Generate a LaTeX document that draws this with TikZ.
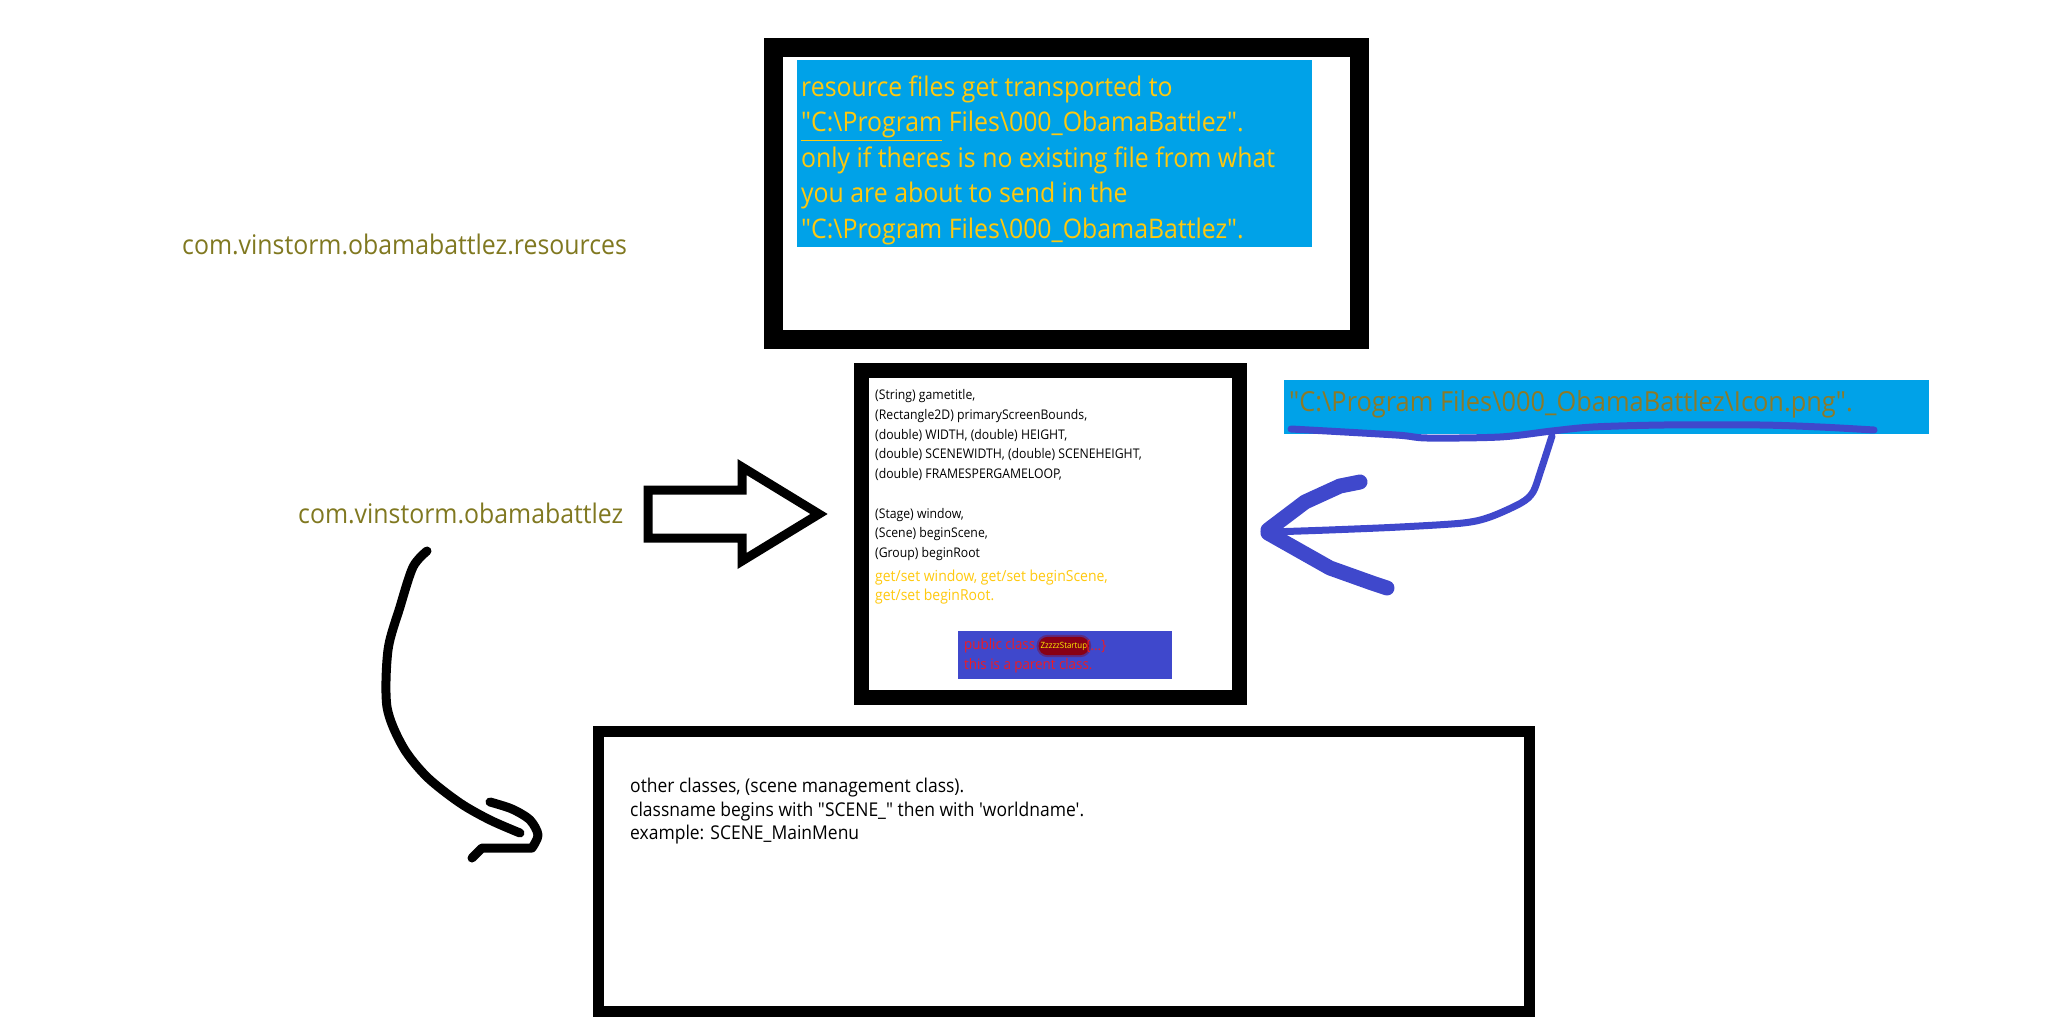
\documentclass[tikz,border=0pt]{standalone}
\usepackage{fontspec}
\setmainfont{Open Sans}[FakeStretch=0.92, Ligatures=TeXOff]
\usepackage{tikz}
\usetikzlibrary{positioning}
\usetikzlibrary{shapes}
\usepackage{xcolor}
\definecolor{turq}{HTML}{00A2E8}
\definecolor{indigo}{HTML}{3F48CC}
\definecolor{gold}{HTML}{FFC90E}
\definecolor{paintred}{HTML}{ED1C24}
\definecolor{darkred}{HTML}{880015}
\definecolor{olive}{RGB}{128,120,32}
\definecolor{brownish}{RGB}{140,122,40}

\begin{document}
\begin{tikzpicture}[x=1pt,y=-1pt,
		frame/.style = {draw, line width=#1, fill=white, inner sep=0},
		card/.style = {fill=#1, inner sep=0},
		txt/.style = {inner sep=0, anchor=north west, align=left},
		pkg/.style = {inner sep=0, anchor=west, text=olive, font=\fontsize{27}{32}\selectfont},
		redtxt/.style = {inner sep=0, text=paintred, font=\fontsize{14.5}{19}\selectfont},
		blob/.style = {rectangle, rounded corners=9pt, fill=darkred, inner xsep=2pt, inner ysep=5pt, text=yellow,
			font=\fontsize{8.6}{10}\selectfont, preaction={draw=darkred, line width=4, opacity=.4, rounded corners=11pt}},
		pen/.style = {line width=#1, line cap=round, line join=round}]
	\useasboundingbox (0,0) rectangle (2056,1032);
	% boxes
	\node[frame=19, minimum width=586, minimum height=292] (resbox) at (1066.5,193.5) {};
	\node[frame=15, minimum width=378, minimum height=327] (startbox) at (1050.5,534) {};
	\node[frame=11, minimum width=931, minimum height=280] (scenebox) at (1064,871.5) {};
	\node[card=turq, minimum width=515, minimum height=187] (rescard) at (1054,153.5) {};
	\node[card=turq, minimum width=645, minimum height=54] (iconbox) at (1606.5,407) {};
	\node[card=indigo, minimum width=214, minimum height=48] (classbox) at (1065,655) {};
	% texts
	\node[txt, text=gold, font=\fontsize{27}{35.5}\selectfont] (restext) at (801,75.5)
		{resource files get transported to\\
		\underline{"C:\textbackslash Program} Files\textbackslash 000\_ObamaBattlez".\\
		only if theres is no existing file from what\\
		you are about to send in the\\
		"C:\textbackslash Program Files\textbackslash 000\_ObamaBattlez".};
	\node[pkg] (respkg) at (182,244) {com.vinstorm.obamabattlez.resources};
	\node[pkg] (mainpkg) at (298,513) {com.vinstorm.obamabattlez};
	\node[inner sep=0, anchor=west, text=brownish, font=\fontsize{27.6}{32}\selectfont] (icontext) at (1289,404)
		{"C:\textbackslash Program Files\textbackslash 000\_ObamaBattlez\textbackslash Icon.png".};
	\node[txt, font=\fontsize{13.3}{19.7}\selectfont] (fields) at (875,389.5)
		{(String) gametitle,\\
		(Rectangle2D) primaryScreenBounds,\\
		(double) WIDTH, (double) HEIGHT,\\
		(double) SCENEWIDTH, (double) SCENEHEIGHT,\\
		(double) FRAMESPERGAMELOOP,\\[19.7pt]
		(Stage) window,\\
		(Scene) beginScene,\\
		(Group) beginRoot};
	\node[txt, text=gold, font=\fontsize{15.2}{19.2}\selectfont] (getset) at (875,569.5)
		{get/set window, get/set beginScene,\\
		get/set beginRoot.};
	\node[redtxt, anchor=west] (pubclass) at (964,646) {public class};
	\node[blob, right=3pt of pubclass] (startup) {ZzzzzStartup};
	\node[redtxt, right=-4pt of startup] (dots) {\{...\}};
	\node[redtxt, anchor=west] (parent) at (964,666) {this is a parent class.};
	\node[txt, font=\fontsize{19}{23.5}\selectfont] (scenetext) at (630,778)
		{other classes, (scene management class).\\
		classname begins with "SCENE\_" then with 'worldname'.\\
		example: SCENE\_MainMenu};
	% hollow arrow
	\draw[line width=9, miter limit=10] (648,490) -- (742,490) -- (742,467) -- (819,514)
		-- (742,561) -- (742,538) -- (648,538) -- cycle;
	% black hand drawn arrow
	\draw[pen=9] plot[smooth] coordinates {(427,551) (413,567) (400,607) (388,650) (387,707)
		(403,747) (427,777) (460,803) (490,820) (520,833)};
	\draw[pen=9] plot[smooth] coordinates {(490,802) (512,809) (530,820) (538,835) (532,848)}
		-- (482,848) -- (472,858);
	% blue hand drawn arrow
	\draw[pen=7, indigo] plot[smooth] coordinates {(1291,429) (1396,435) (1427,438) (1500,437)
		(1552,431) (1593,427) (1664,425) (1760,425) (1820,427) (1874,430)};
	\draw[pen=7, indigo] plot[smooth] coordinates {(1552,436) (1541,470) (1533,492) (1521,503)
		(1490,517) (1463,523) (1400,527) (1329,530) (1271,532)};
	\draw[pen=15, indigo] (1268,530) -- (1305,502) -- (1340,486) -- (1360,482);
	\draw[pen=15, indigo] (1268,533) -- (1330,568) -- (1372,583) -- (1387,588);
\end{tikzpicture}
\end{document}
